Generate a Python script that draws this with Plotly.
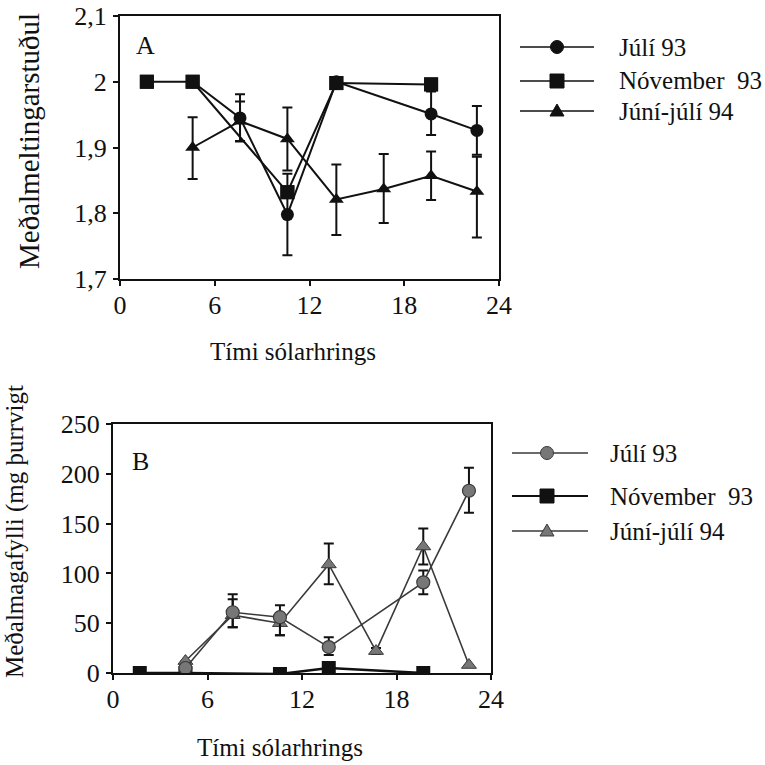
import plotly.graph_objects as go

# ---------------- data ----------------
series_names = ["Júlí 93", "Nóvember\u00a0\u00a093", "Júní-júlí 94"]

# Panel A : Meðalmeltingarstuðul
a_jul93_t = [4.6, 7.6, 10.6, 13.7, 19.7, 22.6]
a_jul93_y = [2.0, 1.945, 1.798, 2.0, 1.951, 1.926]
a_jul93_ep = [0, 0.036, 0.062, 0, 0.034, 0.037]
a_jul93_em = [0, 0.036, 0.062, 0, 0.032, 0.037]

a_nov93_t = [1.7, 4.6, 10.6, 13.7, 19.7]
a_nov93_y = [2.0, 2.0, 1.832, 1.998, 1.996]

a_jun94_t = [4.6, 7.6, 10.6, 13.7, 16.7, 19.7, 22.6]
a_jun94_y = [1.90, 1.94, 1.913, 1.821, 1.837, 1.857, 1.833]
a_jun94_ep = [0.046, 0.03, 0.048, 0.053, 0.053, 0.037, 0.053]
a_jun94_em = [0.048, 0.03, 0.048, 0.054, 0.052, 0.037, 0.07]

# Panel B : Meðalmagafylli (mg þurrvigt)
b_jul93_t = [4.6, 7.6, 10.6, 13.7, 19.7, 22.6]
b_jul93_y = [5, 61, 56, 26, 91, 183]
b_jul93_ep = [0, 18, 12, 10, 12, 23]
b_jul93_em = [0, 15, 18, 8, 12, 22]

b_nov93_t = [1.7, 4.6, 10.6, 13.7, 19.7]
b_nov93_y = [0, 0, -1, 5, 0]

b_jun94_t = [4.6, 7.6, 10.6, 13.7, 16.7, 19.7, 22.6]
b_jun94_y = [12, 58, 50, 109, 22, 127, 8]
b_jun94_ep = [0, 16, 10, 21, 3, 18, 0]
b_jun94_em = [0, 12, 12, 20, 3, 18, 0]

x_ticks = [0, 6, 12, 18, 24]
a_yticks = [1.7, 1.8, 1.9, 2.0, 2.1]
a_yticktext = ["1,7", "1,8", "1,9", "2", "2,1"]
b_yticks = [0, 50, 100, 150, 200, 250]

x_title = "Tími sólarhrings"
a_ytitle = "Meðalmeltingarstuðul"
b_ytitle = "Meðalmagafylli (mg þurrvigt"

# ---------------- style ----------------
W = H = 765
FONT = "Liberation Serif"
BLACK = "#111111"
GREY = "#777777"
DGREY = "#3a3a3a"


def px_x(p):
    return p / W


def px_y(p):
    return 1 - p / H


fig = go.Figure()


def err(plus, minus, color, thick=2, width=5):
    return dict(type="data", symmetric=False, array=plus, arrayminus=minus,
                color=color, thickness=thick, width=width, visible=True)


# Panel A traces
fig.add_trace(go.Scatter(x=a_nov93_t, y=a_nov93_y, mode="lines+markers", xaxis="x", yaxis="y",
                         line=dict(color=BLACK, width=2),
                         marker=dict(symbol="square", size=14, color=BLACK), showlegend=False))
fig.add_trace(go.Scatter(x=a_jun94_t, y=a_jun94_y, mode="lines+markers", xaxis="x", yaxis="y",
                         line=dict(color=BLACK, width=2),
                         marker=dict(symbol="triangle-up", size=13, color=BLACK),
                         error_y=err(a_jun94_ep, a_jun94_em, BLACK), showlegend=False))
fig.add_trace(go.Scatter(x=a_jul93_t, y=a_jul93_y, mode="lines+markers", xaxis="x", yaxis="y",
                         line=dict(color=BLACK, width=2),
                         marker=dict(symbol="circle", size=13, color=BLACK),
                         error_y=err(a_jul93_ep, a_jul93_em, BLACK), showlegend=False))
fig.add_trace(go.Scatter(x=a_nov93_t, y=a_nov93_y, mode="markers", xaxis="x", yaxis="y",
                         marker=dict(symbol="square", size=14, color=BLACK), showlegend=False))

# Panel B traces
fig.add_trace(go.Scatter(x=b_nov93_t, y=b_nov93_y, mode="lines+markers", xaxis="x2", yaxis="y2",
                         line=dict(color=BLACK, width=2.5),
                         marker=dict(symbol="square", size=14, color=BLACK), showlegend=False))
fig.add_trace(go.Scatter(x=b_jun94_t, y=b_jun94_y, mode="lines+markers", xaxis="x2", yaxis="y2",
                         line=dict(color=DGREY, width=1.6),
                         marker=dict(symbol="triangle-up", size=13, color=GREY,
                                     line=dict(color=DGREY, width=1)),
                         error_y=err(b_jun94_ep, b_jun94_em, BLACK), showlegend=False))
fig.add_trace(go.Scatter(x=b_jul93_t, y=b_jul93_y, mode="lines+markers", xaxis="x2", yaxis="y2",
                         line=dict(color=DGREY, width=1.6),
                         marker=dict(symbol="circle", size=13, color=GREY,
                                     line=dict(color=DGREY, width=1.2)),
                         error_y=err(b_jul93_ep, b_jul93_em, BLACK), showlegend=False))

# ---------------- axes ----------------
common_x = dict(range=[0, 24], tickvals=x_ticks, ticks="outside", ticklen=5, tickwidth=2,
                tickcolor=BLACK, showline=True, linecolor=BLACK, linewidth=2, mirror=True,
                showgrid=False, zeroline=False, automargin=False, ticklabelstandoff=-3,
                tickfont=dict(family=FONT, size=26, color=BLACK))
common_y = dict(ticks="outside", ticklen=5, tickwidth=2, tickcolor=BLACK, showline=True,
                linecolor=BLACK, linewidth=2, mirror=True, showgrid=False, zeroline=False,
                automargin=False, ticklabelstandoff=1,
                tickfont=dict(family=FONT, size=26, color=BLACK))

fig.update_layout(
    width=W, height=H, margin=dict(l=0, r=0, t=0, b=0, pad=0, autoexpand=False),
    paper_bgcolor="white", plot_bgcolor="white", showlegend=False,
    xaxis=dict(common_x, domain=[px_x(120), px_x(499)], anchor="y"),
    yaxis=dict(common_y, domain=[px_y(279), px_y(16)], range=[1.7, 2.1],
               tickvals=a_yticks, ticktext=a_yticktext, anchor="x"),
    xaxis2=dict(common_x, domain=[px_x(113), px_x(491)], anchor="y2"),
    yaxis2=dict(common_y, domain=[px_y(673), px_y(424)], range=[0, 250],
                tickvals=b_yticks, anchor="x2"),
)

annotations = []
shapes = []


def text(t, x, y, size, angle=0, xanchor="center"):
    annotations.append(dict(text=t, x=px_x(x), y=px_y(y), xref="paper", yref="paper",
                            xanchor=xanchor, yanchor="middle", textangle=angle,
                            showarrow=False, font=dict(family=FONT, size=size, color=BLACK)))


text(x_title, 293, 352, 25)
text(x_title, 280, 747, 25)
text(a_ytitle, 29, 141, 29, angle=-90)
text(b_ytitle, 15, 532, 25, angle=-90)
text("A", 145, 45, 26)
text("B", 140, 461, 26)

# ---------------- custom legends (paper shapes) ----------------
legA = dict(x0=520, x1=594, xm=557, xt=617, rows=[47, 81, 111],
            fills=[BLACK, BLACK, BLACK], lines=[BLACK, BLACK, BLACK], lw=[1.6, 1.6, 1.6])
legB = dict(x0=512, x1=588, xm=547, xt=608, rows=[453, 496, 531],
            fills=[GREY, BLACK, GREY], lines=[DGREY, BLACK, DGREY], lw=[1.3, 2.2, 1.3])


def marker_shape(kind, cx, cy, fill, edge):
    r = 6.5
    if kind == 0:
        return dict(type="circle", xref="paper", yref="paper",
                    x0=px_x(cx - r), x1=px_x(cx + r), y0=px_y(cy + r), y1=px_y(cy - r),
                    fillcolor=fill, line=dict(color=edge, width=1))
    if kind == 1:
        return dict(type="rect", xref="paper", yref="paper",
                    x0=px_x(cx - 7), x1=px_x(cx + 7), y0=px_y(cy + 7), y1=px_y(cy - 7),
                    fillcolor=fill, line=dict(color=edge, width=1))
    pts = [(cx - 7, cy + 5), (cx + 7, cy + 5), (cx, cy - 7)]
    path = "M " + " L ".join(f"{px_x(a):.5f},{px_y(b):.5f}" for a, b in pts) + " Z"
    return dict(type="path", xref="paper", yref="paper", path=path,
                fillcolor=fill, line=dict(color=edge, width=1))


for leg in (legA, legB):
    for i, name in enumerate(series_names):
        yy = leg["rows"][i]
        shapes.append(dict(type="line", xref="paper", yref="paper",
                           x0=px_x(leg["x0"]), x1=px_x(leg["x1"]), y0=px_y(yy), y1=px_y(yy),
                           line=dict(color=leg["lines"][i], width=leg["lw"][i])))
        shapes.append(marker_shape(i, leg["xm"], yy, leg["fills"][i], leg["lines"][i]))
        text(name, leg["xt"], yy, 25, xanchor="left")

fig.update_layout(annotations=annotations, shapes=shapes)
fig.write_html("out.html")
